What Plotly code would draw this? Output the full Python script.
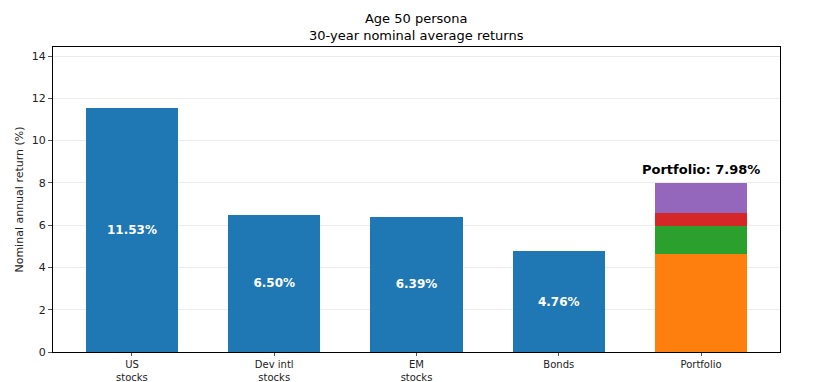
import plotly.graph_objects as go

categories = ["US<br>stocks", "Dev intl<br>stocks", "EM<br>stocks", "Bonds", "Portfolio"]
asset_returns = [11.53, 6.50, 6.39, 4.76]
portfolio_parts = [4.64, 1.31, 0.64, 1.39]
portfolio_colors = ["#ff7f0e", "#2ca02c", "#d62728", "#9467bd"]
portfolio_total = 7.98

fig = go.Figure()
fig.add_trace(go.Bar(
    x=categories[:4], y=asset_returns, width=0.65, marker_color="#1f77b4",
    marker_line_width=0,
    text=[f"<b>{v:.2f}%</b>" for v in asset_returns], textposition="inside",
    insidetextanchor="middle", textfont=dict(color="white", size=12, family="DejaVu Sans"),
    showlegend=False,
))
for part, col in zip(portfolio_parts, portfolio_colors):
    fig.add_trace(go.Bar(x=[categories[4]], y=[part], width=0.65, marker_color=col,
                         marker_line_width=0, showlegend=False))

fig.add_annotation(x=categories[4], y=portfolio_total, text=f"<b>Portfolio: {portfolio_total:.2f}%</b>",
                   showarrow=False, yanchor="bottom", yshift=4,
                   font=dict(size=13, color="black", family="DejaVu Sans"))

fig.add_annotation(xref="paper", yref="paper", x=0.5, y=1.0, yshift=2, yanchor="bottom",
                   text="Age 50 persona<br>30-year nominal average returns", showarrow=False,
                   font=dict(size=13, color="black", family="DejaVu Sans"))

fig.update_layout(
    barmode="stack", width=809, height=374,
    margin=dict(l=45, r=37, t=39, b=30, autoexpand=False),
    plot_bgcolor="white", paper_bgcolor="white",
    font=dict(family="DejaVu Sans", size=11, color="#222"),
)
fig.update_xaxes(range=[-0.555, 4.555], showline=True, linecolor="black", mirror=True,
                 ticks="outside", ticklen=3, tickcolor="#555", showgrid=False, automargin=False,
                 tickfont=dict(size=10))
fig.update_yaxes(range=[0, 14.43], dtick=2, showline=True, linecolor="black", mirror=True,
                 ticks="outside", ticklen=4, tickcolor="#555", showgrid=True,
                 gridcolor="#ececec", zeroline=False, automargin=False,
                 title=dict(text="Nominal annual return (%)", font=dict(size=11), standoff=5))
fig.write_html("out.html")
